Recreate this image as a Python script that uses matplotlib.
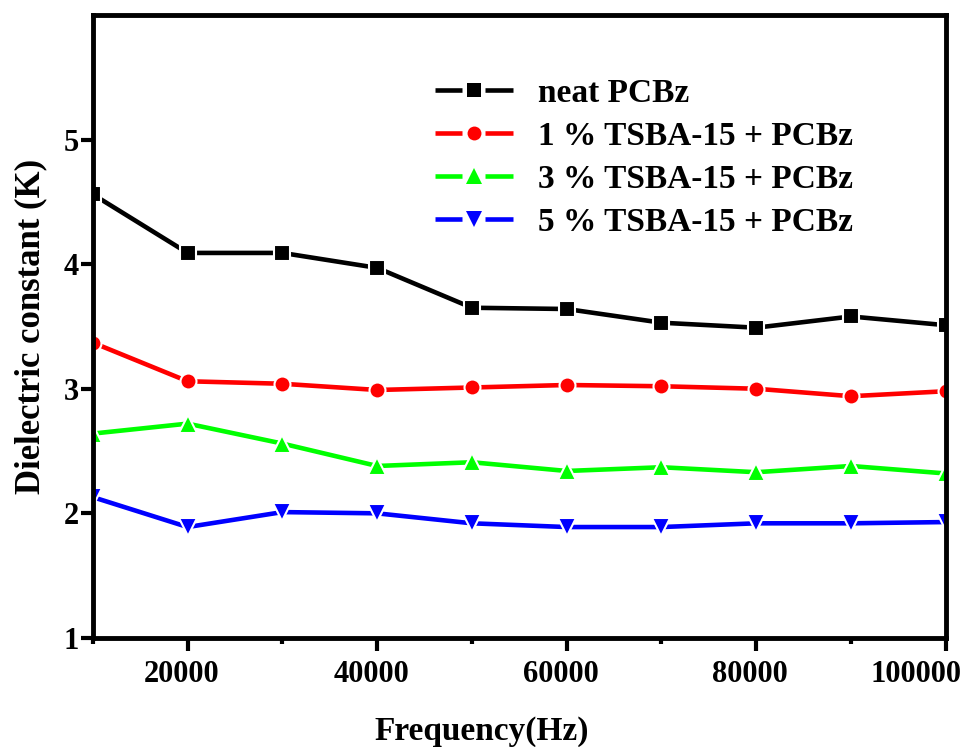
import matplotlib
matplotlib.use("Agg")
import matplotlib.pyplot as plt
from matplotlib.ticker import MultipleLocator
from matplotlib.transforms import ScaledTranslation
from matplotlib.legend_handler import HandlerBase
from matplotlib.lines import Line2D

plt.rcParams['font.family'] = ['Liberation Serif', 'DejaVu Serif']
plt.rcParams['font.weight'] = 'bold'

freq = [10000, 20000, 30000, 40000, 50000, 60000, 70000, 80000, 90000, 100000]
neat = [4.56, 4.09, 4.09, 3.97, 3.65, 3.64, 3.53, 3.49, 3.58, 3.51]
tsba1 = [3.37, 3.06, 3.04, 2.99, 3.01, 3.03, 3.02, 3.00, 2.94, 2.98]
tsba3 = [2.64, 2.72, 2.56, 2.38, 2.41, 2.34, 2.37, 2.33, 2.38, 2.32]
tsba5 = [2.13, 1.89, 2.01, 2.00, 1.92, 1.89, 1.89, 1.92, 1.92, 1.93]
labels = ["neat PCBz", "1 % TSBA-15 + PCBz", "3 % TSBA-15 + PCBz", "5 % TSBA-15 + PCBz"]
xticks = [20000, 40000, 60000, 80000, 100000]
yticks = [1, 2, 3, 4, 5]


class GapHandler(HandlerBase):
    def create_artists(self, legend, orig, xd, yd, w, h, fs, trans):
        y = h / 2 - yd
        x0 = -xd
        c = orig.get_color()
        lw = orig.get_linewidth()
        l1 = Line2D([x0, x0 + 0.355 * w], [y, y], color=c, lw=lw, solid_capstyle='butt')
        l2 = Line2D([x0 + 0.645 * w, x0 + w], [y, y], color=c, lw=lw, solid_capstyle='butt')
        m = Line2D([x0 + 0.5 * w], [y], marker=orig.get_marker(),
                   markersize=orig.get_markersize() - 1.5, color=c,
                   markeredgecolor=c, markeredgewidth=0, linestyle='none')
        for a in (l1, l2, m):
            a.set_transform(trans)
        return [l1, l2, m]


fig = plt.figure(figsize=(9.67, 7.47), dpi=100)
ax = fig.add_axes([0.096, 0.146, 0.882, 0.834])

series = [(neat, '#000000', 's', 11.5), (tsba1, '#ff0000', 'o', 11.5),
          (tsba3, '#00ff00', '^', 13.5), (tsba5, '#0000ff', 'v', 13.5)]
handles = []
for (vals, col, mk, ms), lab in zip(series, labels):
    ln, = ax.plot(freq, vals, color=col, marker=mk, markersize=ms, linewidth=3.3,
                  markeredgecolor='white', markeredgewidth=1.5, label=lab, zorder=3)
    handles.append(ln)

ax.set_xlim(10000, 100000)
ax.set_ylim(1, 6)
ax.set_xticks(xticks)
ax.xaxis.set_minor_locator(MultipleLocator(10000))
ax.set_yticks(yticks)
ax.tick_params(axis='both', which='major', direction='out', length=9, width=3,
               labelsize=22)
ax.tick_params(axis='x', which='major', pad=7)
ax.tick_params(axis='y', which='major', pad=1)
ax.tick_params(axis='both', which='minor', direction='out', length=4.5, width=3)
for lbl in ax.get_xticklabels() + ax.get_yticklabels():
    lbl.set_fontweight('bold')
xl = ax.get_xticklabels()
for lbl in xl[:-1]:
    lbl.set_transform(lbl.get_transform() + ScaledTranslation(-6 / 100, 0, fig.dpi_scale_trans))
xl[-1].set_transform(xl[-1].get_transform() + ScaledTranslation(-30 / 100, 0, fig.dpi_scale_trans))
for sp in ax.spines.values():
    sp.set_linewidth(3.5)
    sp.set_zorder(5)

ax.set_xlabel("Frequency(Hz)", fontsize=24, fontweight='bold')
ax.xaxis.set_label_coords(0.456, -0.125)
ax.set_ylabel("Dielectric constant (K)", fontsize=25, fontweight='bold', labelpad=12)

leg = ax.legend(handles=handles, labels=labels, handler_map={Line2D: GapHandler()},
                loc='upper left', bbox_to_anchor=(0.385, 0.92), frameon=False,
                prop={'family': 'Liberation Serif', 'weight': 'bold', 'size': 24},
                handlelength=2.35, handletextpad=0.75, labelspacing=0.36,
                borderaxespad=0)

fig.savefig("out.png", dpi=100)
